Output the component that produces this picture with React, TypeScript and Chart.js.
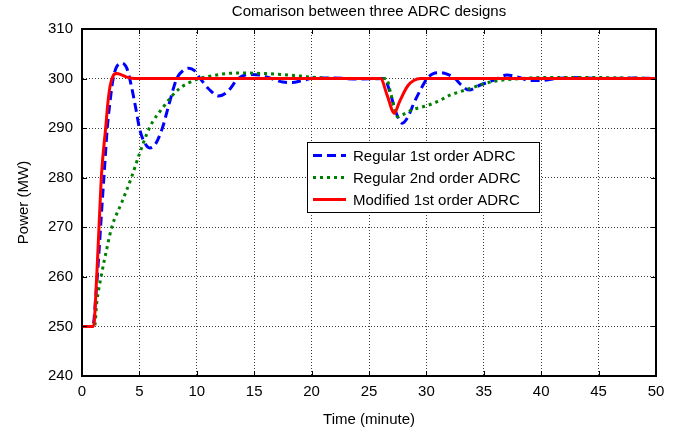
import React, { useEffect, useRef } from "react";
import { Chart, registerables } from "chart.js";

Chart.register(...registerables);

const TITLE = "Comarison between three ADRC designs";
const X_LABEL = "Time (minute)";
const Y_LABEL = "Power (MW)";
const X_MIN = 0;
const X_MAX = 50;
const X_STEP = 5;
const Y_MIN = 240;
const Y_MAX = 310;
const Y_STEP = 10;
const SERIES_NAMES = ["Regular 1st order ADRC", "Regular 2nd order ADRC", "Modified 1st order ADRC"];

const regular1Time = [0, 0.95, 1.2, 1.45, 1.7, 1.95, 2.2, 2.45, 2.7, 3.0, 3.45, 3.9, 4.3, 4.7, 5.0, 5.4, 5.9, 6.4, 7.0, 7.6, 8.25, 8.8, 9.3, 9.8, 10.3, 11.0, 11.9, 12.7, 13.6, 14.5, 15.5, 16.5, 17.5, 18.3, 19.2, 20.2, 22, 24, 26.3, 26.8, 27.3, 27.9, 28.4, 28.9, 29.5, 30.05, 30.6, 31.2, 31.8, 32.5, 33.0, 33.7, 34.7, 35.9, 37.0, 38.0, 39.0, 40.0, 41.0, 42.5, 44, 46, 48, 50];
const regular1Power = [250, 250, 256, 264, 273, 281.5, 290, 295.5, 299.8, 302.3, 303.1, 302.1, 298.5, 293.8, 290, 287.3, 286, 286.8, 290, 295, 300, 301.6, 302.1, 301.6, 300, 298, 296.5, 297.4, 300, 300.8, 300.7, 300, 299.3, 299.2, 299.6, 300.1, 300.1, 299.9, 300, 297.5, 293.5, 291.0, 292.3, 295, 297.8, 300, 301, 301.2, 300.9, 300, 298.8, 297.7, 298.7, 299.7, 300.7, 300.3, 299.6, 299.6, 299.9, 300.2, 300.1, 300, 300.1, 300];

const regular2Time = [0, 1.1, 1.28, 1.66, 2.2, 2.59, 3.46, 4.3, 5.0, 5.64, 6.13, 7.0, 7.8, 8.5, 9.27, 10.2, 11.0, 12.2, 13.3, 14.5, 16.0, 17.5, 19.0, 20.5, 22.5, 25, 26.5, 26.9, 27.5, 28.0, 28.9, 30.0, 31.0, 32.1, 33.0, 33.8, 34.8, 35.8, 37.0, 38.2, 40, 42, 45, 48, 50];
const regular2Power = [250, 250, 254.7, 260, 266.1, 270, 275, 280, 284.8, 288.8, 291.2, 294.0, 296.4, 298, 299.1, 300, 300.4, 300.9, 301.1, 301.1, 301, 300.8, 300.5, 300.2, 300, 300, 300, 297, 292.3, 292.8, 293.8, 294.5, 295.4, 296.7, 297.4, 298, 298.8, 299.4, 299.8, 300, 300.2, 300.2, 300.2, 300.1, 300];

const modifiedTime = [0, 1.0, 1.28, 1.48, 1.71, 2.06, 2.25, 2.44, 2.7, 3.0, 3.4, 3.9, 4.6, 26.0, 26.6, 27.2, 27.6, 28.0, 28.4, 28.9, 29.5, 50];
const modifiedPower = [250, 250, 260, 270, 281, 290, 295, 298.4, 300.5, 301.0, 300.8, 300.3, 300, 300, 296.5, 293.0, 295, 297, 298.6, 299.6, 300, 300];

const COLORS = ["#0000ff", "#008000", "#ff0000"];
const DASHES = [[9, 5], [3, 4], []];
const FONT = '"Liberation Sans", Arial, Helvetica, sans-serif';

const toPoints = (t: number[], p: number[]) => t.map((x, i) => ({ x, y: p[i] }));

const decorPlugin = {
  id: "decor",
  afterDraw(chart: any) {
    const { ctx, chartArea } = chart;
    const { left, right, top, bottom } = chartArea;
    const xs = chart.scales.x;
    const ys = chart.scales.y;
    ctx.save();
    // frame
    ctx.strokeStyle = "#000";
    ctx.lineWidth = 2;
    ctx.setLineDash([]);
    ctx.strokeRect(Math.round(left), Math.round(top), Math.round(right - left), Math.round(bottom - top));
    // inward tick marks
    ctx.lineWidth = 1;
    ctx.beginPath();
    for (let v = X_MIN; v <= X_MAX; v += X_STEP) {
      const px = Math.round(xs.getPixelForValue(v)) + 0.5;
      ctx.moveTo(px, bottom);
      ctx.lineTo(px, bottom - 5);
      ctx.moveTo(px, top);
      ctx.lineTo(px, top + 5);
    }
    for (let v = Y_MIN; v <= Y_MAX; v += Y_STEP) {
      const py = Math.round(ys.getPixelForValue(v)) + 0.5;
      ctx.moveTo(left, py);
      ctx.lineTo(left + 5, py);
      ctx.moveTo(right, py);
      ctx.lineTo(right - 5, py);
    }
    ctx.stroke();

    // title and axis labels
    ctx.fillStyle = "#000";
    ctx.font = "15px " + FONT;
    ctx.textAlign = "center";
    ctx.textBaseline = "middle";
    ctx.fillText(TITLE, (left + right) / 2, 12);
    ctx.fillText(X_LABEL, (left + right) / 2, 420);
    ctx.save();
    ctx.translate(24, (top + bottom) / 2);
    ctx.rotate(-Math.PI / 2);
    ctx.fillText(Y_LABEL, 0, 0);
    ctx.restore();

    // legend
    const bx = 307, by = 142, bw = 232, bh = 70;
    ctx.fillStyle = "#fff";
    ctx.fillRect(bx, by, bw, bh);
    ctx.strokeStyle = "#000";
    ctx.lineWidth = 1;
    ctx.strokeRect(bx + 0.5, by + 0.5, bw, bh);
    const rows = [155.5, 177.5, 199.5];
    ctx.textAlign = "left";
    SERIES_NAMES.forEach((name, i) => {
      ctx.strokeStyle = COLORS[i];
      ctx.lineWidth = 3;
      ctx.setLineDash(DASHES[i]);
      ctx.beginPath();
      ctx.moveTo(313, rows[i]);
      ctx.lineTo(346, rows[i]);
      ctx.stroke();
      ctx.setLineDash([]);
      ctx.fillStyle = "#000";
      ctx.fillText(name, 353, rows[i] + 1);
    });
    ctx.restore();
  },
};

export default function App() {
  const ref = useRef<HTMLCanvasElement | null>(null);
  useEffect(() => {
    document.body.style.margin = "0";
    if (!ref.current) return;
    const series = [
      toPoints(regular1Time, regular1Power),
      toPoints(regular2Time, regular2Power),
      toPoints(modifiedTime, modifiedPower),
    ];
    const gridOpts = {
      color: "rgba(0,0,0,0.75)",
      lineWidth: 1,
      drawTicks: false,
    };
    const chart = new Chart(ref.current, {
      type: "line",
      data: {
        datasets: SERIES_NAMES.map((name, i) => ({
          label: name,
          data: series[i],
          borderColor: COLORS[i],
          backgroundColor: COLORS[i],
          borderWidth: 3,
          borderDash: DASHES[i],
          pointRadius: 0,
          fill: false,
          cubicInterpolationMode: "monotone" as const,
          order: 3 - i,
        })),
      },
      options: {
        responsive: false,
        animation: false,
        events: [],
        layout: { padding: { top: 29, right: 24, bottom: 0, left: 0 } },
        plugins: { legend: { display: false }, title: { display: false }, tooltip: { enabled: false } },
        scales: {
          x: {
            type: "linear",
            min: X_MIN,
            max: X_MAX,
            grid: gridOpts,
            border: { display: true, color: "#000", width: 1, dash: [1, 2] },
            ticks: { stepSize: X_STEP, padding: 7, color: "#000", font: { size: 15, family: FONT } },
            afterFit: (s: any) => { s.height = 56; },
          },
          y: {
            type: "linear",
            min: Y_MIN,
            max: Y_MAX,
            grid: gridOpts,
            border: { display: true, color: "#000", width: 1, dash: [1, 2] },
            ticks: { stepSize: Y_STEP, padding: 9, color: "#000", font: { size: 15, family: FONT } },
            afterFit: (s: any) => { s.width = 82; },
          },
        },
      },
      plugins: [decorPlugin],
    });
    return () => chart.destroy();
  }, []);
  return (
    <div style={{ position: "absolute", left: 0, top: 0, width: 680, height: 432, background: "#fff" }}>
      <canvas ref={ref} width={680} height={432} style={{ width: 680, height: 432 }} />
    </div>
  );
}
